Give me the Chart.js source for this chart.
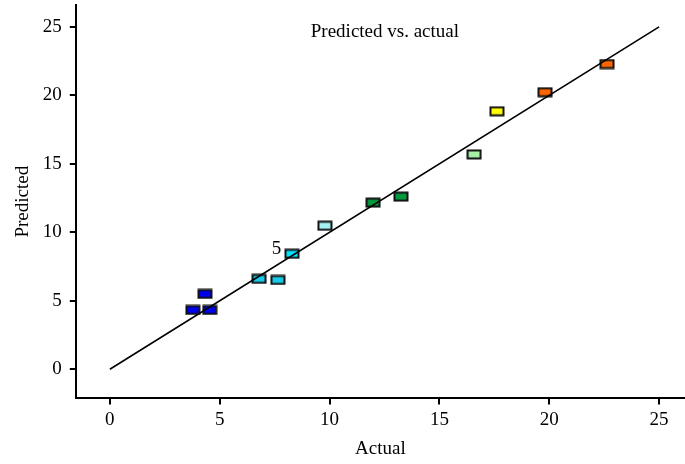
<!DOCTYPE html>
<html>
<head>
<meta charset="utf-8">
<script src="https://cdn.jsdelivr.net/npm/chart.js@4"></script>
<style>
  html, body { margin: 0; padding: 0; background: #fff; }
  #wrap { width: 685px; height: 464px; }
</style>
</head>
<body>
<div id="wrap"><canvas id="chart" width="685" height="464"></canvas></div>
<script>
// values
const actual    = [3.78, 4.33, 4.55, 6.79, 7.65, 8.29, 9.79, 11.98, 13.25, 16.58, 17.62, 19.81, 22.63];
const predicted = [4.33, 5.50, 4.33, 6.60, 6.52, 8.43, 10.48, 12.17, 12.61, 15.69, 18.84, 20.23, 22.29];
const pointColors = ['#0000ee', '#0000ee', '#0000ee', '#19c8e8', '#19c8e8', '#00e4ff', '#a6f2f2',
                     '#009a3c', '#009a3c', '#a6f2a6', '#ffff00', '#ff6600', '#ff6600'];
const tickValues = [0, 5, 10, 15, 20, 25];
const fitLine = [0, 25];

const FONT = '"Liberation Serif", "Times New Roman", serif';

// little rectangle markers like the original
function makeMarker(color) {
  const c = document.createElement('canvas');
  c.width = 16;
  c.height = 11;
  const g = c.getContext('2d');
  g.fillStyle = color;
  g.fillRect(1.5, 1.5, 13, 8);
  g.strokeStyle = '#111';
  g.lineWidth = 2;
  g.strokeRect(1.5, 1.5, 13, 8);
  return c;
}

const points = actual.map((x, i) => ({ x: x, y: predicted[i] }));

const textPlugin = {
  id: 'texts',
  afterDatasetsDraw(chart) {
    const ctx = chart.ctx;
    const xs = chart.scales.x, ys = chart.scales.y;
    ctx.save();
    ctx.fillStyle = '#000';
    ctx.font = '19px ' + FONT;
    ctx.textBaseline = 'middle';
    ctx.textAlign = 'center';
    ctx.fillText('Predicted vs. actual', xs.getPixelForValue(12.52), ys.getPixelForValue(24.6));
    ctx.textAlign = 'right';
    ctx.fillText('5', xs.getPixelForValue(7.8), ys.getPixelForValue(8.75));
    ctx.restore();
  }
};

function axis(min, max, title, pad, tpad) {
  return {
    type: 'linear',
    min: min,
    max: max,
    afterBuildTicks: (s) => { s.ticks = tickValues.map(v => ({ value: v })); },
    // the axes run right to the edges, so drop the room kept for end labels
    afterFit: (s) => { s.paddingTop = 0; s.paddingBottom = 0; s.paddingLeft = 0; s.paddingRight = 0; },
    grid: { display: true, drawOnChartArea: false, drawTicks: true, tickLength: 6, color: '#000', lineWidth: 2 },
    border: { display: true, color: '#000', width: 2 },
    ticks: { color: '#000', font: { family: FONT, size: 19 }, padding: pad, maxRotation: 0 },
    title: { display: true, text: title, color: '#000', font: { family: FONT, size: 19 }, padding: tpad }
  };
}

new Chart(document.getElementById('chart'), {
  type: 'scatter',
  data: {
    datasets: [
      {
        type: 'line',
        data: fitLine.map(v => ({ x: v, y: v })),
        borderColor: '#000',
        borderWidth: 1.6,
        pointRadius: 0,
        fill: false
      },
      {
        data: points,
        pointStyle: pointColors.map(makeMarker),
        pointRadius: 7
      }
    ]
  },
  options: {
    responsive: false,
    animation: false,
    layout: { autoPadding: false, padding: { left: 10, right: 0, top: 5, bottom: 0 } },
    plugins: { legend: { display: false }, tooltip: { enabled: false } },
    scales: {
      x: axis(-1.55, 26.18, 'Actual', 4, { top: 2, bottom: 4 }),
      y: axis(-2.13, 26.6, 'Predicted', 8, { top: 2, bottom: 0 })
    }
  },
  plugins: [textPlugin]
});
</script>
</body>
</html>
